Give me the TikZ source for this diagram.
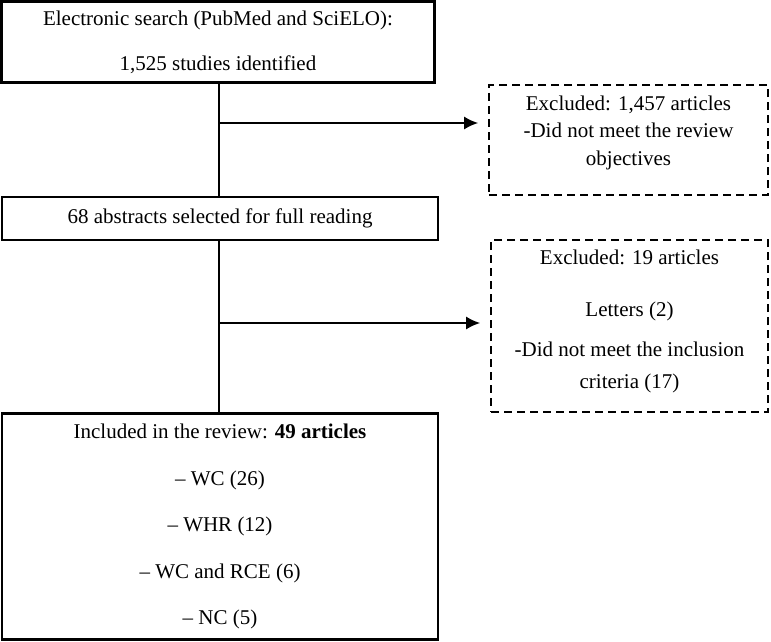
\documentclass[tikz,border=0pt]{standalone}
\usepackage{fontspec}
\setmainfont{Liberation Serif}
\usetikzlibrary{arrows.meta}
\tikzset{
  box/.style={draw,line width=2.5pt,align=center,inner sep=0pt},
  exbox/.style={draw,line width=1.6pt,dash pattern=on 8pt off 5pt,align=center,inner sep=0pt},
  link/.style={line width=2pt},
  arr/.style={line width=2pt,-{Latex[length=14pt,width=13pt]},shorten >=10pt}
}
\begin{document}
\begin{tikzpicture}[x=1pt,y=-1pt,font=\fontsize{21}{24}\selectfont]
\useasboundingbox (0,0) rectangle (771,642);
\node[box,minimum width=433pt,minimum height=81pt] (search) at (218,42)
  {Electronic search (PubMed and SciELO):\\[21pt]1,525 studies identified};
\node[box,minimum width=436pt,minimum height=43pt] (abstracts) at (220,218.5)
  {68 abstracts selected for full reading};
\node[box,minimum width=436pt,minimum height=226pt] (included) at (220,526.5)
  {Included in the review: \textbf{49 articles}\\[22.5pt]-- WC (26)\\[22.5pt]-- WHR (12)\\[22.5pt]-- WC and RCE (6)\\[22.5pt]-- NC (5)};
\node[exbox,minimum width=279pt,minimum height=110pt,text depth=18.6pt] (excl1) at (628.5,140)
  {Excluded: 1,457 articles\\[3.5pt]-Did not meet the review\\[3.5pt]objectives};
\node[exbox,minimum width=277pt,minimum height=172pt,text depth=12.6pt] (excl2) at (629.5,326)
  {Excluded: 19 articles\\[28pt]Letters (2)\\[16pt]-Did not meet the inclusion\\[8pt]criteria (17)};
\coordinate (split1) at (219,123);
\coordinate (split2) at (219,323);
% trunk
\draw[link] (search.south -| split1) -- (abstracts.north -| split1);
\draw[link] (abstracts.south -| split1) -- (included.north -| split1);
% exclusions
\draw[arr] (split1) -- (split1 -| excl1.west);
\draw[arr] (split2) -- (split2 -| excl2.west);
\end{tikzpicture}
\end{document}
